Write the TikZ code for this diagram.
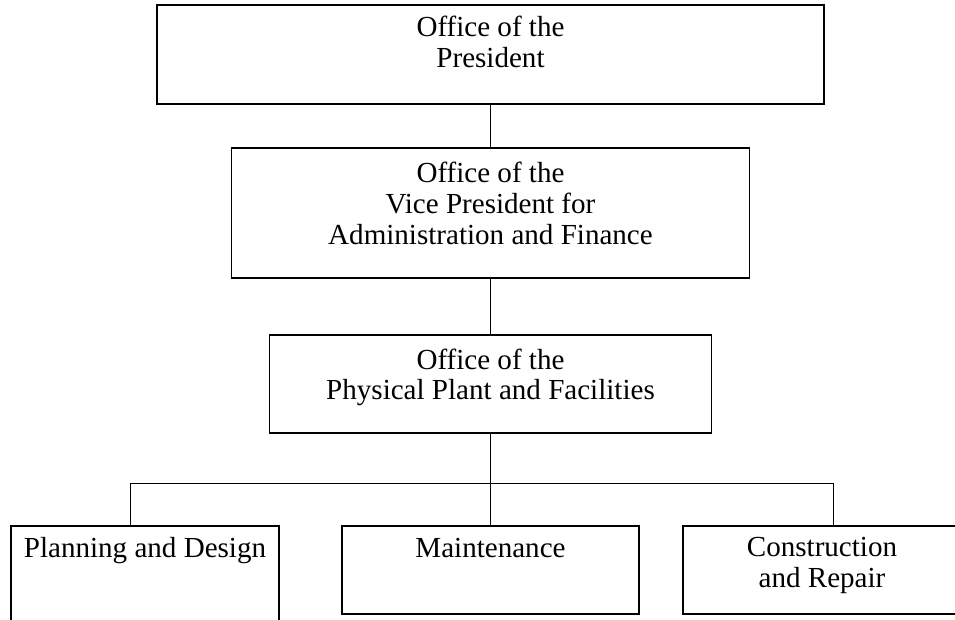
\documentclass[tikz,border=0pt]{standalone}
\usepackage{fontspec}
\setmainfont{Liberation Serif}
\usetikzlibrary{positioning}

\begin{document}
\begin{tikzpicture}[x=0.75pt, y=-0.75pt,
  every node/.style={font=\fontsize{21.8}{22.9}\selectfont},
  unit/.style={draw, rectangle, line width=1.1pt, inner sep=0pt},
  caption/.style={align=center, inner sep=0pt, anchor=north},
  link/.style={line width=0.75pt}]
  \useasboundingbox (0,0) rectangle (955,620);
  \clip (0,0) rectangle (955,620);

  % offices, top to bottom
  \node[unit, minimum width=500.25pt, minimum height=74.25pt] (pres) at (490.5,54.5) {};
  \node[caption, below=9pt of pres.north] (pres-t) {Office of the\\President};

  \node[unit, minimum width=388.5pt, minimum height=97.5pt] (vp) at (490.5,213) {};
  \node[caption, below=11.25pt of vp.north] (vp-t) {Office of the\\Vice President for\\Administration and Finance};

  \node[unit, minimum width=331.5pt, minimum height=73.5pt] (plant) at (490.5,384) {};
  \node[caption, below=10.5pt of plant.north] (plant-t) {Office of the\\Physical Plant and Facilities};

  % units under the physical plant
  \node[unit, minimum width=201pt, minimum height=90pt] (plan) at (145,586) {};
  \node[caption, below=9pt of plan.north] (plan-t) {Planning and Design};

  \node[unit, minimum width=222.75pt, minimum height=66pt] (maint) at (490.5,570) {};
  \node[caption, below=9.75pt of maint.north] (maint-t) {Maintenance};

  \node[unit, minimum width=208.5pt, minimum height=66pt] (constr) at (822,570) {};
  \node[caption, below=9pt of constr.north] (constr-t) {Construction\\and Repair};

  \draw[link] (pres.south) -- (vp.north);
  \draw[link] (vp.south) -- (plant.north);
  \draw[link] (plant.south) -- (maint.north);

  \coordinate (busL) at (130,483);
  \coordinate (busR) at (833,483);
  \draw[link] (busL) -- (busR);
  \draw[link] (busL) -- (busL |- plan.north);
  \draw[link] (busR) -- (busR |- constr.north);
\end{tikzpicture}
\end{document}
